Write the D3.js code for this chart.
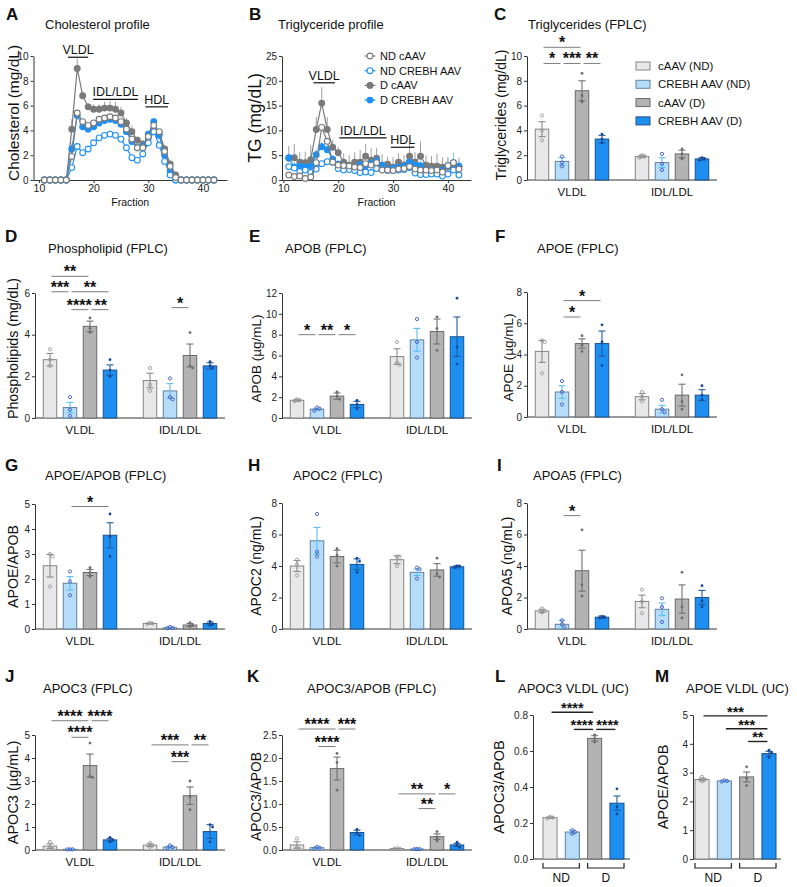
<!DOCTYPE html>
<meta charset="utf-8">
<style>
  body { margin: 0; background: #fff; }
</style>
<body>
<script src="https://d3js.org/d3.v7.min.js"></script>
<script>
// ---------------- data ----------------
var fractions = [11, 12, 13, 14, 15, 16, 17, 18, 19, 20, 21, 22, 23, 24, 25, 26, 27, 28, 29, 30, 31, 32, 33, 34, 35, 36, 37, 38, 39, 40, 41, 42];
var fractionTicks = [10, 20, 30, 40];
var profileNames = ["ND cAAV", "ND CREBH AAV", "D cAAV", "D CREBH AAV"];

// A: cholesterol profile (mg/dL)
var cholNDcAAV  = [0, 0, 0, 0, 0, 1.9, 5.4, 4.7, 4.4, 4.6, 4.9, 5.0, 5.1, 5.0, 4.7, 4.1, 3.3, 2.6, 2.6, 3.5, 4.4, 3.9, 2.3, 1.1, 0.2, 0, 0, 0, 0, 0, 0, 0];
var cholNDCrebh = [0, 0, 0, 0, 0, 1.0, 2.7, 2.2, 2.5, 3.0, 3.4, 3.6, 3.7, 3.6, 3.3, 2.6, 1.8, 1.6, 2.1, 3.0, 3.9, 2.8, 1.5, 0.4, 0, 0, 0, 0, 0, 0, 0, 0];
var cholDcAAV   = [0, 0, 0, 0, 0, 4.1, 9.0, 6.8, 5.9, 5.7, 5.7, 5.8, 5.8, 5.7, 5.4, 4.6, 3.9, 3.2, 2.9, 3.4, 4.1, 3.8, 2.5, 1.3, 0.4, 0, 0, 0, 0, 0, 0, 0];
var cholDCrebh  = [0, 0, 0, 0, 0, 2.5, 5.2, 4.3, 4.1, 4.3, 4.6, 4.8, 4.9, 4.8, 4.5, 3.9, 3.1, 2.6, 2.7, 3.7, 4.7, 3.6, 2.0, 0.7, 0, 0, 0, 0, 0, 0, 0, 0];
var cholDcAAVSem  = [0, 0, 0, 0, 0, 0.8, 0.8, 0.3, 0.3, 0.4, 0.4, 0.5, 0.6, 0.6, 0.5, 0.4, 0.5, 0.3, 0.3, 0.3, 0.3, 0.3, 0.3, 0.2, 0.2, 0, 0, 0, 0, 0, 0, 0];
var cholDCrebhSem = [0, 0, 0, 0, 0, 0.5, 0.3, 0.2, 0.2, 0.2, 0.2, 0.2, 0.2, 0.2, 0.2, 0.2, 0.2, 0.2, 0.2, 0.2, 0.3, 0.2, 0.2, 0.1, 0, 0, 0, 0, 0, 0, 0, 0];
var cholTicks = [0, 2, 4, 6, 8, 10];
var cholRegions = [["VLDL", 15.3, 19.0, 9.9], ["IDL/LDL", 19.9, 28.1, 6.5], ["HDL", 29.5, 33.6, 5.9]];

// B: triglyceride profile (mg/dL)
var tgNDcAAV  = [1.0, 0.7, 0.8, 0.3, 0.6, 3.5, 10.6, 7.8, 3.6, 3.0, 2.9, 2.8, 2.6, 2.5, 3.3, 3.0, 3.5, 2.0, 2.0, 1.9, 2.2, 2.3, 2.7, 2.2, 2.0, 2.0, 1.9, 2.0, 1.6, 2.9, 3.5, 2.2];
var tgNDCrebh = [2.7, 2.4, 1.7, 2.0, 1.5, 2.2, 3.3, 3.7, 3.6, 2.3, 2.0, 2.1, 1.9, 1.5, 1.6, 1.5, 2.3, 2.2, 1.9, 1.9, 2.0, 2.1, 2.5, 1.4, 1.1, 1.1, 1.2, 1.2, 0.8, 1.2, 2.0, 1.0];
var tgDcAAV   = [4.4, 4.5, 3.6, 3.5, 4.1, 10.2, 15.5, 10.2, 6.6, 5.5, 3.6, 3.0, 3.6, 3.6, 4.8, 4.0, 4.4, 3.0, 3.2, 2.6, 3.6, 3.0, 4.8, 3.6, 4.8, 3.0, 2.8, 2.8, 2.6, 2.6, 3.0, 2.7];
var tgDCrebh  = [4.5, 2.6, 2.8, 2.6, 2.8, 5.1, 6.7, 6.1, 4.2, 3.2, 2.8, 2.6, 2.4, 3.1, 2.8, 3.4, 3.9, 3.0, 2.2, 2.4, 2.6, 2.8, 3.6, 3.0, 2.9, 2.0, 2.0, 1.8, 2.0, 2.9, 3.5, 2.8];
var tgDcAAVSem  = [2.5, 2.8, 2.0, 2.2, 3.0, 2.5, 3.2, 2.5, 1.5, 1.2, 1.8, 2.0, 2.0, 2.5, 2.5, 2.5, 2.0, 2.2, 1.5, 2.0, 1.8, 2.0, 2.5, 2.0, 3.0, 2.0, 2.0, 2.5, 2.0, 2.0, 1.5, 1.8];
var tgDCrebhSem = [0.8, 1.0, 1.0, 0.8, 1.0, 1.2, 1.0, 1.0, 0.8, 0.8, 0.8, 0.8, 0.8, 1.0, 1.0, 1.0, 1.0, 0.8, 0.8, 0.8, 0.8, 1.0, 1.0, 1.0, 1.0, 0.8, 0.8, 0.8, 0.8, 1.5, 2.0, 1.0];
var tgProfileTicks = [0, 5, 10, 15, 20, 25];
var tgRegions = [["VLDL", 15.5, 19.4, 19.6], ["IDL/LDL", 20.2, 28.8, 8.5], ["HDL", 29.6, 33.9, 6.6]];

// bar panels: [VLDL row, IDL/LDL row], 4 groups each
var groupNames = ["cAAV (ND)", "CREBH AAV (ND)", "cAAV (D)", "CREBH AAV (D)"];
var lipoClasses = ["VLDL", "IDL/LDL"];
var dietClasses = ["ND", "D"];

// C: triglycerides (FPLC)
var tgMean = [[4.1, 1.5, 7.2, 3.3], [1.9, 1.4, 2.1, 1.7]];
var tgSem  = [[0.6, 0.3, 0.8, 0.3], [0.1, 0.4, 0.3, 0.1]];
var tgPts  = [[[5.2, 4.0, 3.2], [1.9, 1.4, 1.1], [8.6, 6.8, 6.3], [3.7, 3.3, 3.0]],
              [[2.0, 1.9, 1.8], [2.1, 1.3, 0.8], [2.5, 2.1, 1.7], [1.8, 1.7, 1.6]]];
var tgTicks = [0, 2, 4, 6, 8, 10];
var tgSig = [[0, 0, 2, 10.7, "*"], [0, 0, 1, 9.4, "*"], [0, 1, 2, 9.4, "***"], [0, 2, 3, 9.4, "**"]];

// D: phospholipid
var plMean = [[2.8, 0.5, 4.4, 2.3], [1.8, 1.3, 3.0, 2.5]];
var plSem  = [[0.3, 0.25, 0.25, 0.25], [0.35, 0.35, 0.55, 0.15]];
var plPts  = [[[3.3, 2.8, 2.5], [1.0, 0.4, 0.1], [4.8, 4.3, 4.1], [2.8, 2.3, 2.0]],
              [[2.4, 1.6, 1.3], [1.9, 1.0, 0.9], [4.1, 2.5, 2.4], [2.7, 2.5, 2.4]]];
var plTicks = [0, 2, 4, 6];
var plSig = [[0, 0, 2, 6.8, "**"], [0, 0, 1, 6.06, "***"], [0, 1, 3, 6.06, "**"], [0, 1, 2, 5.2, "****"], [0, 2, 3, 5.2, "**"], [1, 1, 2, 5.3, "*"]];

// E: APOB
var apobMean = [[1.7, 0.85, 2.1, 1.3], [5.9, 7.5, 8.3, 7.8]];
var apobSem  = [[0.1, 0.1, 0.3, 0.3], [0.75, 1.1, 1.2, 1.9]];
var apobPts  = [[[1.8, 1.7, 1.6], [1.0, 0.9, 0.7], [2.5, 2.1, 1.8], [1.7, 1.3, 0.9]],
                [[7.3, 5.3, 5.1], [9.5, 7.3, 5.8], [9.7, 8.6, 6.5], [11.5, 6.8, 5.2]]];
var apobTicks = [0, 2, 4, 6, 8, 10, 12];
var apobSig = [[0, 0, 1, 8, "*"], [0, 1, 2, 8, "**"], [0, 2, 3, 8, "*"]];

// F: APOE
var apoeMean = [[4.2, 1.6, 4.7, 4.7], [1.3, 0.5, 1.4, 1.4]];
var apoeSem  = [[0.7, 0.4, 0.3, 0.8], [0.2, 0.25, 0.7, 0.35]];
var apoePts  = [[[4.9, 4.8, 2.8], [2.3, 1.6, 0.8], [5.2, 4.6, 4.2], [5.9, 4.8, 3.3]],
                [[1.6, 1.3, 1.0], [1.1, 0.5, 0.3], [2.7, 1.0, 0.5], [2.0, 1.4, 1.1]]];
var apoeTicks = [0, 2, 4, 6, 8];
var apoeSig = [[0, 1, 3, 7.45, "*"], [0, 1, 2, 6.4, "*"]];

// G: APOE/APOB
var eRatioMean = [[2.53, 1.83, 2.26, 3.75], [0.22, 0.05, 0.16, 0.22]];
var eRatioSem  = [[0.45, 0.27, 0.12, 0.5], [0.02, 0.02, 0.06, 0.06]];
var eRatioPts  = [[[3.0, 2.9, 1.7], [2.3, 1.9, 1.35], [2.45, 2.25, 2.1], [4.6, 3.7, 2.9]],
                  [[0.25, 0.22, 0.2], [0.08, 0.05, 0.03], [0.25, 0.14, 0.1], [0.3, 0.2, 0.15]]];
var eRatioTicks = [0, 1, 2, 3, 4, 5];
var eRatioSig = [[0, 1, 3, 4.9, "*"]];

// H: APOC2
var apoc2Mean = [[4.0, 5.6, 4.6, 4.1], [4.4, 3.6, 3.75, 3.95]];
var apoc2Sem  = [[0.35, 0.85, 0.4, 0.35], [0.25, 0.2, 0.4, 0.07]];
var apoc2Pts  = [[[4.4, 4.1, 3.4], [7.3, 4.9, 4.6], [5.1, 4.7, 4.0], [4.5, 4.3, 3.6]],
                 [[4.6, 4.6, 4.0], [3.9, 3.8, 3.2], [4.5, 3.5, 3.3], [4.0, 4.0, 3.9]]];
var apoc2Ticks = [0, 2, 4, 6, 8];
var apoc2Sig = [];

// I: APOA5
var apoa5Mean = [[1.15, 0.3, 3.7, 0.75], [1.75, 1.25, 1.9, 2.0]];
var apoa5Sem  = [[0.1, 0.25, 1.3, 0.08], [0.4, 0.4, 0.9, 0.45]];
var apoa5Pts  = [[[1.3, 1.15, 1.05], [0.55, 0.3, 0.1], [6.3, 2.8, 2.1], [0.8, 0.75, 0.7]],
                 [[2.5, 1.75, 1.0], [1.95, 1.4, 0.45], [3.6, 1.4, 0.7], [2.75, 1.8, 1.4]]];
var apoa5Ticks = [0, 2, 4, 6, 8];
var apoa5Sig = [[0, 1, 2, 7.2, "*"]];

// J: APOC3
var apoc3Mean = [[0.17, 0.03, 3.67, 0.44], [0.21, 0.13, 2.36, 0.8]];
var apoc3Sem  = [[0.1, 0.01, 0.5, 0.06], [0.06, 0.05, 0.38, 0.3]];
var apoc3Pts  = [[[0.35, 0.12, 0.05], [0.03, 0.03, 0.03], [4.65, 3.2, 3.15], [0.55, 0.43, 0.35]],
                 [[0.3, 0.2, 0.14], [0.2, 0.12, 0.08], [3.0, 2.3, 1.75], [1.1, 1.0, 0.35]]];
var apoc3Ticks = [0, 1, 2, 3, 4, 5];
var apoc3Sig = [[0, 0, 2, 5.62, "****"], [0, 2, 3, 5.62, "****"], [0, 1, 2, 4.9, "****"],
                [1, 0, 2, 4.57, "***"], [1, 2, 3, 4.57, "**"], [1, 1, 2, 3.84, "***"]];

// K: APOC3/APOB
var cRatioMean = [[0.11, 0.05, 1.77, 0.38], [0.03, 0.02, 0.29, 0.11]];
var cRatioSem  = [[0.07, 0.015, 0.25, 0.05], [0.005, 0.003, 0.06, 0.03]];
var cRatioPts  = [[[0.25, 0.06, 0.02], [0.07, 0.05, 0.03], [2.1, 1.9, 1.3], [0.45, 0.37, 0.32]],
                  [[0.035, 0.03, 0.025], [0.02, 0.02, 0.02], [0.4, 0.27, 0.2], [0.17, 0.1, 0.06]]];
var cRatioTicks = [0, 0.5, 1.0, 1.5, 2.0, 2.5];
var cRatioSig = [[0, 0, 2, 2.63, "****"], [0, 2, 3, 2.63, "***"], [0, 1, 2, 2.25, "****"],
                 [1, 0, 2, 1.22, "**"], [1, 2, 3, 1.22, "*"], [1, 1, 2, 0.9, "**"]];

// L: APOC3 VLDL (UC)
var ucApoc3Mean = [0.23, 0.15, 0.67, 0.31];
var ucApoc3Sem  = [0.004, 0.01, 0.015, 0.04];
var ucApoc3Pts  = [[0.235, 0.23, 0.225], [0.16, 0.15, 0.14], [0.69, 0.67, 0.65], [0.39, 0.29, 0.25]];
var ucApoc3Ticks = [0, 0.2, 0.4, 0.6, 0.8];
var ucApoc3Sig = [[0, 2, 0.815, "****"], [1, 2, 0.72, "****"], [2, 3, 0.72, "****"]];

// M: APOE VLDL (UC)
var ucApoeMean = [2.76, 2.71, 2.85, 3.66];
var ucApoeSem  = [0.05, 0.02, 0.17, 0.08];
var ucApoePts  = [[2.85, 2.75, 2.7], [2.73, 2.71, 2.69], [3.2, 2.8, 2.55], [3.78, 3.7, 3.52]];
var ucApoeTicks = [0, 1, 2, 3, 4, 5];
var ucApoeSig = [[0, 3, 4.97, "***"], [1, 3, 4.52, "***"], [2, 3, 4.08, "**"]];

// ---------------- styles ----------------
var FONT = "'Liberation Sans', Arial, Helvetica, sans-serif";
var barFill   = ["#e8e8e8", "#b5dcf8", "#b3b3b3", "#1d8ff0"];
var barStroke = ["#858585", "#62819c", "#6a6a6a", "#1b4f8a"];
var errColor  = ["#8a8a8a", "#5cbdf2", "#707070", "#1f5c9e"];
var dotColor  = ["#9a9a9a", "#4658c0", "#6e6e6e", "#17479a"];
var dotOpen   = [true, true, false, false];
var profColor = ["#7a7a7a", "#1e90f5", "#7a7a7a", "#1e90f5"];
var profErr   = ["#a0a0a0", "#7cc3f7", "#a0a0a0", "#7cc3f7"];
var profOpen  = [true, true, false, false];

var svg = d3.select("body").append("svg")
    .attr("width", 797)
    .attr("height", 887)
    .attr("font-family", FONT);

function styleAxis(g, size) {
  g.attr("font-family", FONT).attr("font-size", size || 10);
  g.selectAll(".domain, .tick line").attr("stroke", "#333");
  g.selectAll("text").attr("fill", "#222");
}

// letter, title, y axis and y label
function frame(p, y) {
  svg.append("text")
      .attr("x", p.letter[0]).attr("y", p.letter[1])
      .attr("font-size", 17).attr("font-weight", "bold").attr("fill", "#111")
      .text(p.id);
  svg.append("text")
      .attr("x", p.title[0]).attr("y", p.title[1])
      .attr("font-size", 13).attr("fill", "#111")
      .text(p.titleText);
  svg.append("g")
      .attr("transform", "translate(" + p.x + ",0)")
      .call(d3.axisLeft(y).tickValues(p.ticks).tickSize(3).tickSizeOuter(0).tickPadding(2)
          .tickFormat(p.fmt || d3.format("d")))
      .call(styleAxis, 10);
  svg.append("text")
      .attr("transform", "translate(" + p.ylabX + "," + ((p.y0 + p.y1) / 2 + (p.ylabDy || 0)) + ") rotate(-90)")
      .attr("text-anchor", "middle").attr("dominant-baseline", "central")
      .attr("font-size", p.ylabSize || 14).attr("fill", "#111")
      .text(p.ylab);
}

// place replicate dots so that close values do not overlap
function dodge(vals, y) {
  var placed = [], offs = [0, 2.6, -2.6, 5.2];
  return vals.map(function (v) {
    var py = y(v), chosen = 0;
    for (var k = 0; k < offs.length; k++) {
      var clash = placed.some(function (q) { return q.o === offs[k] && Math.abs(q.y - py) < 3.2; });
      if (!clash) { chosen = offs[k]; break; }
    }
    placed.push({ y: py, o: chosen });
    return chosen;
  });
}

function drawRecs(recs, y, bw, y0) {
  svg.append("g").selectAll("rect")
    .data(recs)
    .enter().append("rect")
      .attr("x", function (d) { return d.x - bw / 2; })
      .attr("y", function (d) { return y(d.m); })
      .attr("width", bw)
      .attr("height", function (d) { return y0 - y(d.m); })
      .attr("fill", function (d) { return barFill[d.gi]; })
      .attr("stroke", function (d) { return barStroke[d.gi]; })
      .attr("stroke-width", 1);

  var eb = svg.append("g").selectAll("g")
    .data(recs)
    .enter().append("g")
      .attr("stroke", function (d) { return errColor[d.gi]; })
      .attr("stroke-width", 1.1);
  eb.append("line")
      .attr("x1", function (d) { return d.x; }).attr("x2", function (d) { return d.x; })
      .attr("y1", function (d) { return y(d.m - d.s); }).attr("y2", function (d) { return y(d.m + d.s); });
  eb.append("line")
      .attr("x1", function (d) { return d.x - 3.5; }).attr("x2", function (d) { return d.x + 3.5; })
      .attr("y1", function (d) { return y(d.m + d.s); }).attr("y2", function (d) { return y(d.m + d.s); });
  eb.append("line")
      .attr("x1", function (d) { return d.x - 3.5; }).attr("x2", function (d) { return d.x + 3.5; })
      .attr("y1", function (d) { return y(d.m - d.s); }).attr("y2", function (d) { return y(d.m - d.s); });

  var dots = [];
  recs.forEach(function (r) {
    var o = dodge(r.pts, y);
    r.pts.forEach(function (v, i) { dots.push({ gi: r.gi, x: r.x + o[i], v: v }); });
  });
  svg.append("g").selectAll("circle")
    .data(dots)
    .enter().append("circle")
      .attr("cx", function (d) { return d.x; })
      .attr("cy", function (d) { return y(d.v); })
      .attr("r", function (d) { return dotOpen[d.gi] ? 1.6 : 1.4; })
      .attr("fill", function (d) { return dotOpen[d.gi] ? "none" : dotColor[d.gi]; })
      .attr("stroke", function (d) { return dotOpen[d.gi] ? dotColor[d.gi] : "none"; })
      .attr("stroke-width", 0.9);
}

// significance brackets; labels on one row are pushed apart if they touch
function drawSig(list, y, color, width, fs) {
  var labs = list.map(function (s) {
    return { s: s, y: y(s.v), x: (s.xa + s.xb) / 2, w: s.label.length * 0.389 * fs };
  });
  labs.sort(function (a, b) { return a.x - b.x; });
  for (var i = 1; i < labs.length; i++) {
    for (var j = 0; j < i; j++) {
      var a = labs[j], b = labs[i];
      if (Math.abs(a.y - b.y) > 2) continue;
      var gap = (b.x - b.w / 2) - (a.x + a.w / 2);
      if (gap < 3) { a.x -= (3 - gap) / 2; b.x += (3 - gap) / 2; }
    }
  }
  labs.forEach(function (l) {
    svg.append("line")
        .attr("x1", l.s.xa + 1.5).attr("x2", l.s.xb - 1.5)
        .attr("y1", l.y).attr("y2", l.y)
        .attr("stroke", color).attr("stroke-width", width);
    svg.append("text")
        .attr("x", l.x).attr("y", l.y + 1)
        .attr("text-anchor", "middle")
        .attr("font-size", fs).attr("font-weight", "bold").attr("fill", "#111")
        .text(l.s.label);
  });
}

function drawBars(p) {
  var y = d3.scaleLinear().domain([0, p.ticks[p.ticks.length - 1]]).range([p.y0, p.y1]);
  var x0 = d3.scaleBand().domain(lipoClasses).range([p.x - 5, p.x + 195]);
  var x1 = d3.scaleBand().domain(groupNames).range([13.25, 86.75]).paddingInner(0.325);
  var bw = x1.bandwidth();
  var cx = function (ci, gi) { return x0(lipoClasses[ci]) + x1(groupNames[gi]) + bw / 2; };

  frame(p, y);
  svg.append("line")
      .attr("x1", p.x).attr("x2", p.x + 190)
      .attr("y1", p.y0).attr("y2", p.y0)
      .attr("stroke", "#333");
  svg.append("g")
      .attr("transform", "translate(0," + p.y0 + ")")
      .call(d3.axisBottom(x0).tickSize(0).tickPadding(8))
      .call(function (g) {
        g.select(".domain").remove();
        g.attr("font-family", FONT).attr("font-size", 11.5);
        g.selectAll("text").attr("fill", "#111");
      });

  var recs = [];
  p.mean.forEach(function (row, ci) {
    row.forEach(function (m, gi) {
      recs.push({ ci: ci, gi: gi, m: m, s: p.sem[ci][gi], pts: p.pts[ci][gi], x: cx(ci, gi) });
    });
  });
  drawRecs(recs, y, bw, p.y0);
  drawSig(p.sig.map(function (s) {
    return { xa: cx(s[0], s[1]), xb: cx(s[0], s[2]), v: s[3], label: s[4] };
  }), y, "#7d7d7d", 1, 16);
}

function drawUC(p) {
  var y = d3.scaleLinear().domain([0, p.ticks[p.ticks.length - 1]]).range([p.y0, p.y1]);
  var x = d3.scaleBand().domain(groupNames).range([p.bx0, p.bx1]).paddingInner(0.37);
  var bw = x.bandwidth();
  var cx = function (gi) { return x(groupNames[gi]) + bw / 2; };

  frame(p, y);
  svg.append("line")
      .attr("x1", p.x).attr("x2", p.xEnd)
      .attr("y1", p.y0).attr("y2", p.y0)
      .attr("stroke", "#333");

  var recs = p.mean.map(function (m, gi) {
    return { gi: gi, m: m, s: p.sem[gi], pts: p.pts[gi], x: cx(gi) };
  });
  drawRecs(recs, y, bw, p.y0);
  drawSig(p.sig.map(function (s) {
    return { xa: cx(s[0]), xb: cx(s[1]), v: s[2], label: s[3] };
  }), y, "#222", 1.4, 14.5);

  // ND / D brackets
  dietClasses.forEach(function (dc, k) {
    var xl = x(groupNames[2 * k]), xr = x(groupNames[2 * k + 1]) + bw;
    svg.append("path")
        .attr("d", "M" + xl + "," + (p.y0 + 4) + "V" + (p.y0 + 9) + "H" + xr + "V" + (p.y0 + 4))
        .attr("fill", "none").attr("stroke", "#222").attr("stroke-width", 1.2);
    svg.append("text")
        .attr("x", (xl + xr) / 2).attr("y", p.y0 + 23)
        .attr("text-anchor", "middle").attr("font-size", 12).attr("fill", "#111")
        .text(dc);
  });
}

function drawProfile(p) {
  var x = d3.scaleLinear().domain(p.xDom).range([p.x, p.xEnd]);
  var y = d3.scaleLinear().domain([0, p.ticks[p.ticks.length - 1]]).range([p.y0, p.y1]);
  frame(p, y);
  svg.append("g")
      .attr("transform", "translate(0," + p.y0 + ")")
      .call(d3.axisBottom(x).tickValues(fractionTicks).tickSize(3).tickSizeOuter(0).tickPadding(1.5))
      .call(styleAxis, 10.5);
  svg.append("text")
      .attr("x", (p.x + p.xEnd) / 2).attr("y", p.y0 + 26)
      .attr("text-anchor", "middle").attr("font-size", 10.5).attr("fill", "#111")
      .text("Fraction");

  // draw order: filled series first, open circles on top
  var order = [2, 3, 1, 0];
  order.forEach(function (si) {
    var s = p.series[si];
    if (!s.sem) return;
    svg.append("g").selectAll("line")
      .data(fractions.map(function (f, i) { return { f: f, v: s.vals[i], e: s.sem[i] }; })
        .filter(function (d) { return d.e > 0; }))
      .enter().append("line")
        .attr("x1", function (d) { return x(d.f); }).attr("x2", function (d) { return x(d.f); })
        .attr("y1", function (d) { return y(d.v); }).attr("y2", function (d) { return y(d.v + d.e); })
        .attr("stroke", profErr[si]).attr("stroke-width", 1);
  });
  order.forEach(function (si) {
    var s = p.series[si];
    var pts = fractions.map(function (f, i) { return { f: f, v: s.vals[i] }; });
    svg.append("path")
        .datum(pts)
        .attr("d", d3.line().x(function (d) { return x(d.f); }).y(function (d) { return y(d.v); }))
        .attr("fill", "none").attr("stroke", profColor[si]).attr("stroke-width", 1.2);
    svg.append("g").selectAll("circle")
      .data(pts)
      .enter().append("circle")
        .attr("cx", function (d) { return x(d.f); })
        .attr("cy", function (d) { return y(d.v); })
        .attr("r", 2.9)
        .attr("fill", profOpen[si] ? "#fff" : profColor[si])
        .attr("stroke", profColor[si]).attr("stroke-width", 1.1);
  });

  p.regions.forEach(function (r) {
    var yy = y(r[3]);
    svg.append("line")
        .attr("x1", x(r[1])).attr("x2", x(r[2]))
        .attr("y1", yy).attr("y2", yy)
        .attr("stroke", "#111").attr("stroke-width", 1.2);
    svg.append("text")
        .attr("x", (x(r[1]) + x(r[2])) / 2).attr("y", yy - 3)
        .attr("text-anchor", "middle").attr("font-size", 12.5).attr("fill", "#111")
        .text(r[0]);
  });

  if (p.legend) {
    profileNames.forEach(function (name, i) {
      var ly = p.legend[1] + i * 14.7;
      svg.append("line")
          .attr("x1", p.legend[0] - 5.5).attr("x2", p.legend[0] + 5.5)
          .attr("y1", ly).attr("y2", ly)
          .attr("stroke", profColor[i]).attr("stroke-width", 1.2);
      svg.append("circle")
          .attr("cx", p.legend[0]).attr("cy", ly).attr("r", 2.9)
          .attr("fill", profOpen[i] ? "#fff" : profColor[i])
          .attr("stroke", profColor[i]).attr("stroke-width", 1.1);
      svg.append("text")
          .attr("x", p.legend[0] + 10).attr("y", ly)
          .attr("dominant-baseline", "central").attr("font-size", 11).attr("fill", "#111")
          .text(name);
    });
  }
}

function drawBarLegend(x, y0) {
  groupNames.forEach(function (name, i) {
    var ly = y0 + i * 18.3;
    svg.append("rect")
        .attr("x", x).attr("y", ly - 4).attr("width", 14).attr("height", 8)
        .attr("fill", barFill[i]).attr("stroke", barStroke[i]);
    svg.append("text")
        .attr("x", x + 22).attr("y", ly)
        .attr("dominant-baseline", "central").attr("font-size", 11.5).attr("fill", "#111")
        .text(name);
  });
}

// ---------------- panels ----------------
drawProfile({
  id: "A", letter: [6, 20], title: [45, 29], titleText: "Cholesterol profile",
  x: 33.5, xEnd: 227, y0: 180, y1: 56, xDom: [9, 44.4], ticks: cholTicks,
  ylab: "Cholesterol (mg/dL)", ylabX: 13, ylabSize: 15.5, ylabDy: -5, regions: cholRegions,
  series: [{ vals: cholNDcAAV }, { vals: cholNDCrebh },
           { vals: cholDcAAV, sem: cholDcAAVSem }, { vals: cholDCrebh, sem: cholDCrebhSem }]
});

drawProfile({
  id: "B", letter: [249, 20], title: [278, 29], titleText: "Triglyceride profile",
  x: 282, xEnd: 471, y0: 180, y1: 56, xDom: [9.76, 44.2], ticks: tgProfileTicks,
  ylab: "TG (mg/dL)", ylabX: 255, ylabSize: 17.5, regions: tgRegions, legend: [370, 56],
  series: [{ vals: tgNDcAAV }, { vals: tgNDCrebh },
           { vals: tgDcAAV, sem: tgDcAAVSem }, { vals: tgDCrebh, sem: tgDCrebhSem }]
});

drawBars({
  id: "C", letter: [494, 20], title: [528, 29], titleText: "Triglycerides (FPLC)",
  x: 527, y0: 180, y1: 56, ticks: tgTicks, ylab: "Triglycerides (mg/dL)", ylabX: 501,
  ylabSize: 14, ylabDy: -3,
  mean: tgMean, sem: tgSem, pts: tgPts, sig: tgSig
});
drawBarLegend(636, 66);

drawBars({
  id: "D", letter: [5, 242], title: [48, 253], titleText: "Phospholipid (FPLC)",
  x: 35, y0: 418, y1: 293, ticks: plTicks, ylab: "Phospholipids (mg/dL)", ylabX: 13,
  ylabSize: 14.2, ylabDy: -7,
  mean: plMean, sem: plSem, pts: plPts, sig: plSig
});

drawBars({
  id: "E", letter: [249, 242], title: [285, 253], titleText: "APOB (FPLC)",
  x: 282, y0: 418, y1: 293, ticks: apobTicks, ylab: "APOB (\u00b5g/mL)", ylabX: 256,
  ylabSize: 13.5, ylabDy: 3,
  mean: apobMean, sem: apobSem, pts: apobPts, sig: apobSig
});

drawBars({
  id: "F", letter: [495, 242], title: [537, 253], titleText: "APOE (FPLC)",
  x: 527, y0: 417, y1: 292, ticks: apoeTicks, ylab: "APOE (\u00b5g/mL)", ylabX: 508,
  ylabSize: 13.5, ylabDy: 3,
  mean: apoeMean, sem: apoeSem, pts: apoePts, sig: apoeSig
});

drawBars({
  id: "G", letter: [5, 471], title: [45, 480], titleText: "APOE/APOB (FPLC)",
  x: 35, y0: 629, y1: 504, ticks: eRatioTicks, ylab: "APOE/APOB", ylabX: 13, ylabSize: 14.2,
  mean: eRatioMean, sem: eRatioSem, pts: eRatioPts, sig: eRatioSig
});

drawBars({
  id: "H", letter: [248, 471], title: [293, 480], titleText: "APOC2 (FPLC)",
  x: 282, y0: 629, y1: 503, ticks: apoc2Ticks, ylab: "APOC2 (ng/mL)", ylabX: 256, ylabSize: 14,
  mean: apoc2Mean, sem: apoc2Sem, pts: apoc2Pts, sig: apoc2Sig
});

drawBars({
  id: "I", letter: [497, 471], title: [533, 480], titleText: "APOA5 (FPLC)",
  x: 527, y0: 629, y1: 503, ticks: apoa5Ticks, ylab: "APOA5 (ng/mL)", ylabX: 507, ylabSize: 14,
  mean: apoa5Mean, sem: apoa5Sem, pts: apoa5Pts, sig: apoa5Sig
});

drawBars({
  id: "J", letter: [5, 682], title: [43, 693], titleText: "APOC3 (FPLC)",
  x: 35, y0: 850, y1: 735, ticks: apoc3Ticks, ylab: "APOC3 (\u00b5g/mL)", ylabX: 13, ylabSize: 14.5,
  mean: apoc3Mean, sem: apoc3Sem, pts: apoc3Pts, sig: apoc3Sig
});

drawBars({
  id: "K", letter: [247, 682], title: [307, 693], titleText: "APOC3/APOB (FPLC)",
  x: 282, y0: 850, y1: 735, ticks: cRatioTicks, fmt: d3.format(".1f"),
  ylab: "APOC3/APOB", ylabX: 256, ylabSize: 13.8, ylabDy: 4,
  mean: cRatioMean, sem: cRatioSem, pts: cRatioPts, sig: cRatioSig
});

drawUC({
  id: "L", letter: [495, 682], title: [518, 693], titleText: "APOC3 VLDL (UC)",
  x: 533, xEnd: 630, bx0: 543, bx1: 624, y0: 859, y1: 715, ticks: ucApoc3Ticks,
  fmt: d3.format(".1f"), ylab: "APOC3/APOB", ylabX: 499, ylabSize: 14.5,
  mean: ucApoc3Mean, sem: ucApoc3Sem, pts: ucApoc3Pts, sig: ucApoc3Sig
});

drawUC({
  id: "M", letter: [655, 682], title: [686, 693], titleText: "APOE VLDL (UC)",
  x: 693, xEnd: 781, bx0: 695, bx1: 776, y0: 859, y1: 715, ticks: ucApoeTicks,
  ylab: "APOE/APOB", ylabX: 663, ylabSize: 14.5,
  mean: ucApoeMean, sem: ucApoeSem, pts: ucApoePts, sig: ucApoeSig
});
</script>
</body>
